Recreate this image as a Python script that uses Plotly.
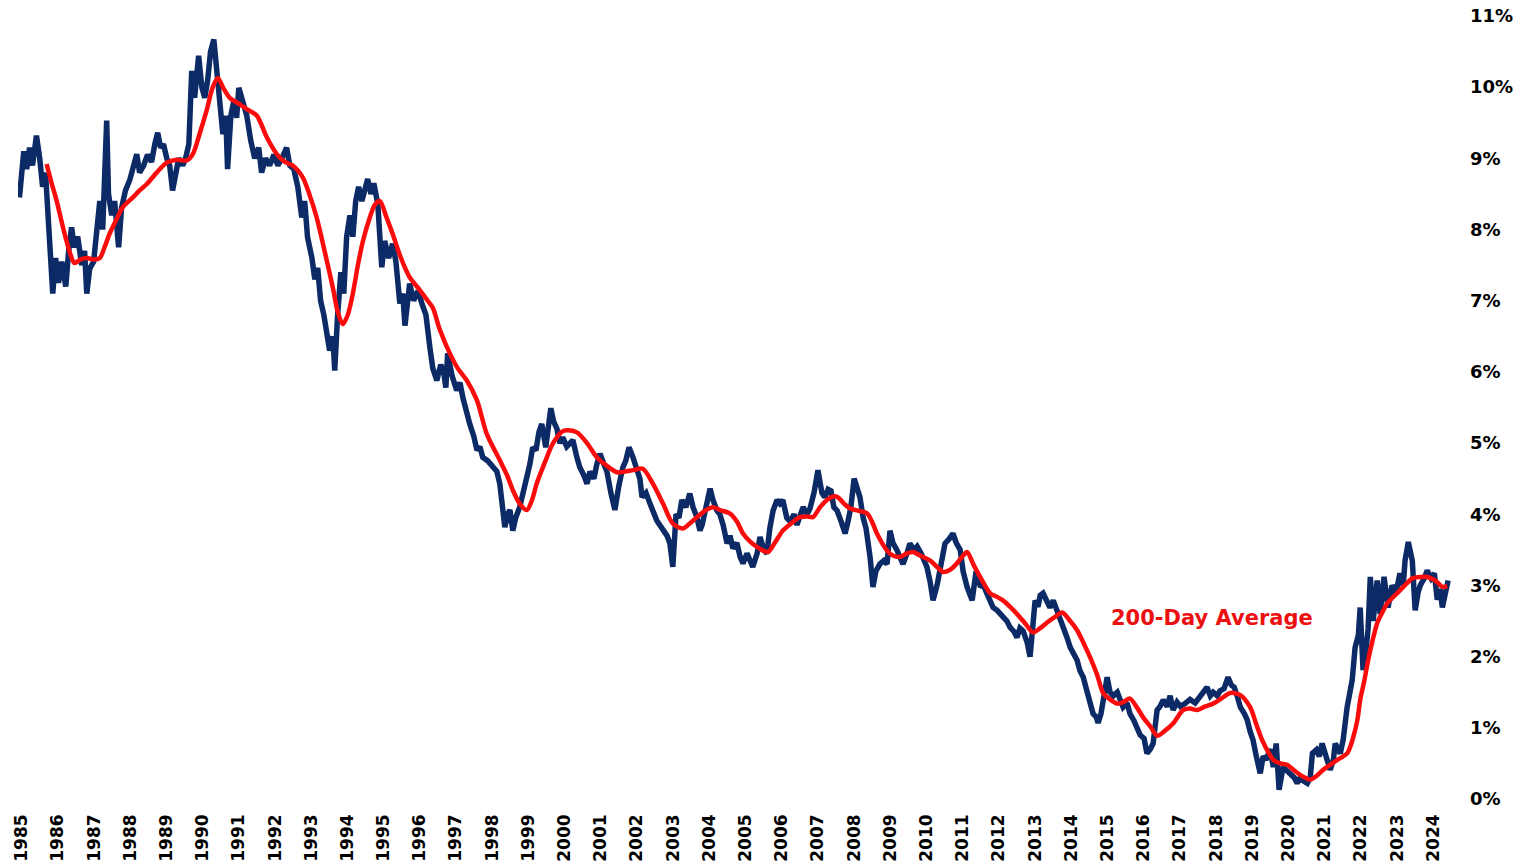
import plotly.graph_objects as go

# ---- data (decimal year, yield in %) ----
yield_t = [
    1984.94, 1985.00, 1985.06, 1985.14, 1985.22, 1985.30, 1985.41, 1985.50, 1985.58, 1985.66,
    1985.72, 1985.77, 1985.86, 1985.94, 1986.02, 1986.11, 1986.22, 1986.30, 1986.38, 1986.46,
    1986.55, 1986.66, 1986.74, 1986.80, 1986.88, 1986.99, 1987.07, 1987.16, 1987.24, 1987.29,
    1987.35, 1987.40, 1987.49, 1987.57, 1987.68, 1987.76, 1987.87, 1987.99, 1988.10, 1988.18,
    1988.26, 1988.37, 1988.48, 1988.59, 1988.68, 1988.76, 1988.84, 1988.92, 1989.01, 1989.09,
    1989.17, 1989.26, 1989.34, 1989.45, 1989.53, 1989.62, 1989.70, 1989.78, 1989.89, 1989.98,
    1990.06, 1990.14, 1990.22, 1990.31, 1990.39, 1990.47, 1990.56, 1990.64, 1990.69, 1990.78,
    1990.86, 1990.94, 1991.00, 1991.11, 1991.22, 1991.33, 1991.44, 1991.55, 1991.63, 1991.74,
    1991.85, 1991.97, 1992.08, 1992.19, 1992.32, 1992.41, 1992.52, 1992.63, 1992.74, 1992.82,
    1992.90, 1993.02, 1993.10, 1993.18, 1993.26, 1993.35, 1993.43, 1993.51, 1993.60, 1993.65,
    1993.73, 1993.82, 1993.90, 1993.98, 1994.07, 1994.15, 1994.23, 1994.31, 1994.40, 1994.48,
    1994.56, 1994.65, 1994.73, 1994.84, 1994.95, 1995.03, 1995.14, 1995.25, 1995.34, 1995.45,
    1995.53, 1995.59, 1995.72, 1995.83, 1995.95, 1996.06, 1996.17, 1996.28, 1996.36, 1996.47,
    1996.58, 1996.66, 1996.72, 1996.77, 1996.89, 1997.02, 1997.11, 1997.19, 1997.27, 1997.38,
    1997.49, 1997.58, 1997.66, 1997.74, 1997.88, 1998.02, 1998.13, 1998.21, 1998.29, 1998.35,
    1998.43, 1998.49, 1998.57, 1998.65, 1998.76, 1998.88, 1998.96, 1999.04, 1999.12, 1999.21,
    1999.29, 1999.37, 1999.48, 1999.57, 1999.62, 1999.70, 1999.79, 1999.87, 1999.95, 2000.06,
    2000.15, 2000.23, 2000.34, 2000.42, 2000.53, 2000.62, 2000.70, 2000.81, 2000.89, 2000.98,
    2001.09, 2001.17, 2001.28, 2001.39, 2001.50, 2001.61, 2001.69, 2001.78, 2001.89, 2002.00,
    2002.08, 2002.14, 2002.25, 2002.36, 2002.47, 2002.55, 2002.63, 2002.72, 2002.83, 2002.91,
    2002.99, 2003.08, 2003.16, 2003.24, 2003.35, 2003.46, 2003.55, 2003.66, 2003.74, 2003.80,
    2003.91, 2004.02, 2004.10, 2004.21, 2004.29, 2004.38, 2004.49, 2004.57, 2004.65, 2004.76,
    2004.85, 2004.93, 2005.04, 2005.12, 2005.20, 2005.32, 2005.40, 2005.51, 2005.59, 2005.67,
    2005.76, 2005.87, 2005.95, 2006.03, 2006.14, 2006.23, 2006.34, 2006.42, 2006.50, 2006.59,
    2006.70, 2006.78, 2006.89, 2007.00, 2007.11, 2007.19, 2007.28, 2007.36, 2007.44, 2007.53,
    2007.64, 2007.75, 2007.83, 2007.91, 2008.00, 2008.08, 2008.16, 2008.25, 2008.33, 2008.44,
    2008.52, 2008.60, 2008.71, 2008.82, 2008.91, 2008.99, 2009.07, 2009.18, 2009.27, 2009.35,
    2009.46, 2009.54, 2009.65, 2009.74, 2009.85, 2009.93, 2010.01, 2010.10, 2010.18, 2010.29,
    2010.37, 2010.46, 2010.51, 2010.62, 2010.73, 2010.82, 2010.93, 2011.01, 2011.12, 2011.26,
    2011.37, 2011.48, 2011.59, 2011.70, 2011.84, 2011.95, 2012.03, 2012.14, 2012.22, 2012.31,
    2012.42, 2012.50, 2012.58, 2012.67, 2012.78, 2012.86, 2012.94, 2013.00, 2013.08, 2013.14,
    2013.22, 2013.33, 2013.41, 2013.50, 2013.61, 2013.69, 2013.80, 2013.88, 2013.97, 2014.08,
    2014.16, 2014.24, 2014.33, 2014.44, 2014.52, 2014.60, 2014.69, 2014.74, 2014.82, 2014.91,
    2014.99, 2015.07, 2015.16, 2015.27, 2015.35, 2015.43, 2015.54, 2015.62, 2015.73, 2015.82,
    2015.90, 2016.01, 2016.09, 2016.18, 2016.26, 2016.37, 2016.45, 2016.54, 2016.65, 2016.73,
    2016.81, 2016.92, 2017.01, 2017.14, 2017.28, 2017.42, 2017.56, 2017.67, 2017.75, 2017.84,
    2017.92, 2018.03, 2018.11, 2018.22, 2018.33, 2018.42, 2018.50, 2018.58, 2018.67, 2018.78,
    2018.86, 2018.94, 2019.02, 2019.11, 2019.22, 2019.30, 2019.38, 2019.49, 2019.58, 2019.66,
    2019.74, 2019.85, 2019.96, 2020.05, 2020.16, 2020.24, 2020.32, 2020.43, 2020.52, 2020.60,
    2020.66, 2020.77, 2020.85, 2020.93, 2021.01, 2021.07, 2021.15, 2021.24, 2021.29, 2021.43,
    2021.51, 2021.62, 2021.71, 2021.76, 2021.84, 2021.93, 2021.98, 2022.06, 2022.15, 2022.20,
    2022.26, 2022.34, 2022.45, 2022.53, 2022.64, 2022.75, 2022.86, 2022.97, 2023.08, 2023.17,
    2023.22, 2023.31, 2023.42, 2023.50, 2023.58, 2023.64, 2023.75, 2023.83, 2023.94, 2024.03,
    2024.11, 2024.19, 2024.25, 2024.33, 2024.41,
]
yield_v = [
    8.45, 8.90, 9.10, 8.85, 9.15, 8.90, 9.32, 9.00, 8.60, 8.80,
    8.30, 7.60, 7.10, 7.60, 7.25, 7.55, 7.20, 7.70, 8.03, 7.75,
    7.90, 7.50, 7.70, 7.10, 7.45, 7.55, 7.90, 8.40, 8.00, 8.90,
    9.53, 8.50, 8.20, 8.40, 7.75, 8.30, 8.55, 8.70, 8.90, 9.06,
    8.80, 8.90, 9.05, 8.95, 9.20, 9.36, 9.15, 9.20, 9.00, 8.90,
    8.55, 8.80, 9.00, 8.90, 9.00, 9.20, 10.23, 9.85, 10.44, 10.00,
    9.85, 10.10, 10.50, 10.67, 10.20, 9.70, 9.34, 9.60, 8.85, 9.60,
    9.80, 9.57, 9.99, 9.80, 9.60, 9.25, 9.00, 9.15, 8.80, 9.00,
    8.90, 9.05, 8.90, 9.00, 9.15, 8.90, 8.85, 8.60, 8.17, 8.40,
    7.89, 7.60, 7.30, 7.46, 7.00, 6.80, 6.50, 6.30, 6.50, 6.02,
    6.80, 7.40, 7.10, 7.90, 8.20, 7.90, 8.40, 8.60, 8.40, 8.60,
    8.71, 8.50, 8.65, 8.36, 7.47, 7.84, 7.60, 7.80, 7.55, 6.96,
    7.10, 6.65, 7.24, 7.00, 7.14, 6.96, 6.80, 6.34, 6.05, 5.88,
    6.10, 6.00, 5.78, 6.26, 5.95, 5.74, 5.85, 5.64, 5.45, 5.27,
    5.10, 4.90, 4.95, 4.80, 4.75, 4.66, 4.60, 4.43, 4.10, 3.82,
    4.00, 4.06, 3.77, 3.95, 4.10, 4.35, 4.52, 4.70, 4.94, 4.90,
    5.15, 5.27, 4.94, 5.30, 5.49, 5.30, 5.20, 5.00, 5.08, 4.95,
    5.00, 5.04, 4.80, 4.66, 4.55, 4.43, 4.60, 4.50, 4.70, 4.85,
    4.70, 4.60, 4.30, 4.06, 4.40, 4.66, 4.75, 4.94, 4.80, 4.60,
    4.50, 4.24, 4.30, 4.15, 4.00, 3.91, 3.85, 3.77, 3.70, 3.59,
    3.26, 4.00, 3.95, 4.20, 4.10, 4.29, 4.10, 3.95, 3.77, 3.85,
    4.10, 4.36, 4.20, 4.05, 4.00, 3.85, 3.59, 3.70, 3.52, 3.60,
    3.40, 3.31, 3.45, 3.35, 3.26, 3.45, 3.68, 3.50, 3.45, 3.80,
    4.05, 4.20, 4.15, 4.20, 3.95, 3.90, 4.00, 3.85, 3.95, 4.10,
    4.00, 4.08, 4.30, 4.62, 4.30, 4.24, 4.35, 4.33, 4.10, 4.05,
    3.90, 3.73, 3.90, 4.10, 4.50, 4.35, 4.24, 3.95, 3.80, 3.40,
    2.98, 3.20, 3.30, 3.35, 3.30, 3.77, 3.60, 3.50, 3.40, 3.30,
    3.45, 3.59, 3.50, 3.55, 3.45, 3.35, 3.26, 3.05, 2.79, 3.00,
    3.20, 3.45, 3.59, 3.65, 3.73, 3.60, 3.50, 3.20, 2.98, 2.79,
    3.20, 3.00, 2.98, 2.85, 2.69, 2.65, 2.60, 2.55, 2.50, 2.41,
    2.35, 2.27, 2.40, 2.36, 2.20, 2.00, 2.50, 2.79, 2.70, 2.86,
    2.89, 2.75, 2.69, 2.79, 2.65, 2.50, 2.40, 2.27, 2.13, 2.00,
    1.95, 1.80, 1.71, 1.50, 1.35, 1.20, 1.15, 1.07, 1.20, 1.50,
    1.71, 1.50, 1.45, 1.50, 1.40, 1.29, 1.35, 1.20, 1.10, 1.01,
    0.90, 0.85, 0.64, 0.70, 0.78, 1.25, 1.30, 1.39, 1.30, 1.45,
    1.25, 1.36, 1.30, 1.34, 1.40, 1.35, 1.45, 1.50, 1.57, 1.45,
    1.50, 1.45, 1.52, 1.55, 1.71, 1.60, 1.57, 1.45, 1.29, 1.20,
    1.11, 0.95, 0.83, 0.60, 0.36, 0.60, 0.55, 0.70, 0.45, 0.78,
    0.13, 0.45, 0.40, 0.36, 0.30, 0.22, 0.30, 0.25, 0.22, 0.30,
    0.64, 0.69, 0.60, 0.78, 0.65, 0.60, 0.41, 0.55, 0.78, 0.64,
    0.83, 1.29, 1.50, 1.67, 2.13, 2.30, 2.69, 1.81, 2.13, 2.40,
    3.12, 2.50, 3.07, 2.60, 3.12, 2.69, 3.00, 2.90, 3.17, 3.00,
    3.35, 3.61, 3.35, 2.65, 2.90, 3.00, 3.10, 3.21, 3.10, 3.17,
    2.80, 2.95, 2.69, 2.85, 3.07,
]

avg_t = [
    1985.69, 1985.83, 1985.97, 1986.11, 1986.24, 1986.35, 1986.46, 1986.63, 1986.80, 1986.99,
    1987.16, 1987.29, 1987.43, 1987.60, 1987.79, 1988.07, 1988.26, 1988.46, 1988.73, 1989.01,
    1989.28, 1989.56, 1989.73, 1989.92, 1990.11, 1990.28, 1990.42, 1990.58, 1990.75, 1991.03,
    1991.25, 1991.50, 1991.77, 1992.05, 1992.27, 1992.49, 1992.77, 1992.96, 1993.15, 1993.37,
    1993.60, 1993.73, 1993.87, 1994.01, 1994.15, 1994.29, 1994.43, 1994.62, 1994.76, 1994.90,
    1995.06, 1995.25, 1995.48, 1995.72, 1996.00, 1996.22, 1996.36, 1996.55, 1996.83, 1997.05,
    1997.30, 1997.58, 1997.85, 1998.21, 1998.41, 1998.57, 1998.76, 1998.96, 1999.10, 1999.23,
    1999.37, 1999.51, 1999.65, 1999.79, 1999.93, 2000.06, 2000.34, 2000.62, 2000.89, 2001.17,
    2001.45, 2001.67, 2001.89, 2002.16, 2002.44, 2002.72, 2002.99, 2003.27, 2003.46, 2003.66,
    2003.88, 2004.10, 2004.29, 2004.57, 2004.76, 2004.93, 2005.12, 2005.32, 2005.48, 2005.62,
    2005.81, 2006.03, 2006.28, 2006.50, 2006.70, 2006.86, 2007.06, 2007.25, 2007.42, 2007.55,
    2007.72, 2007.89, 2008.11, 2008.36, 2008.49, 2008.63, 2008.91, 2009.07, 2009.27, 2009.46,
    2009.63, 2009.82, 2010.10, 2010.29, 2010.46, 2010.65, 2010.84, 2010.98, 2011.12, 2011.29,
    2011.48, 2011.76, 2011.95, 2012.11, 2012.31, 2012.50, 2012.72, 2012.94, 2013.14, 2013.33,
    2013.55, 2013.75, 2013.97, 2014.16, 2014.33, 2014.52, 2014.71, 2014.88, 2015.07, 2015.27,
    2015.43, 2015.62, 2015.82, 2015.98, 2016.18, 2016.37, 2016.59, 2016.81, 2017.09, 2017.28,
    2017.48, 2017.70, 2017.92, 2018.17, 2018.39, 2018.67, 2018.94, 2019.11, 2019.27, 2019.44,
    2019.58, 2019.77, 2019.96, 2020.16, 2020.32, 2020.46, 2020.60, 2020.79, 2020.96, 2021.15,
    2021.35, 2021.51, 2021.62, 2021.71, 2021.79, 2021.90, 2021.98, 2022.09, 2022.20, 2022.31,
    2022.45, 2022.59, 2022.73, 2022.86, 2023.00, 2023.17, 2023.31, 2023.42, 2023.64, 2023.83,
    2023.94, 2024.05, 2024.16, 2024.25, 2024.39,
]
avg_v = [
    8.92, 8.65, 8.40, 8.10, 7.84, 7.65, 7.53, 7.58, 7.60, 7.58,
    7.60, 7.75, 7.94, 8.12, 8.31, 8.45, 8.55, 8.64, 8.80, 8.94,
    8.98, 8.97, 9.06, 9.35, 9.67, 10.00, 10.13, 9.98, 9.85, 9.76,
    9.68, 9.60, 9.30, 9.06, 8.95, 8.90, 8.73, 8.48, 8.17, 7.70,
    7.18, 6.85, 6.67, 6.80, 7.10, 7.50, 7.84, 8.17, 8.35, 8.40,
    8.20, 7.94, 7.60, 7.33, 7.15, 7.00, 6.90, 6.60, 6.26, 6.05,
    5.88, 5.60, 5.13, 4.76, 4.55, 4.34, 4.15, 4.06, 4.20, 4.43,
    4.62, 4.80, 4.97, 5.08, 5.16, 5.18, 5.15, 5.00, 4.80, 4.68,
    4.59, 4.60, 4.62, 4.64, 4.43, 4.15, 3.87, 3.80, 3.87, 3.96,
    4.05, 4.10, 4.06, 4.01, 3.90, 3.73, 3.62, 3.54, 3.49, 3.47,
    3.60, 3.77, 3.88, 3.96, 3.97, 3.96, 4.10, 4.20, 4.25, 4.24,
    4.15, 4.08, 4.05, 4.01, 3.90, 3.73, 3.49, 3.42, 3.40, 3.45,
    3.47, 3.42, 3.35, 3.26, 3.19, 3.22, 3.31, 3.40, 3.47, 3.30,
    3.12, 2.89, 2.84, 2.79, 2.70, 2.60, 2.47, 2.34, 2.40, 2.48,
    2.56, 2.62, 2.50, 2.37, 2.20, 1.99, 1.75, 1.49, 1.40, 1.34,
    1.36, 1.41, 1.28, 1.15, 1.02, 0.89, 0.96, 1.06, 1.25, 1.27,
    1.25, 1.30, 1.34, 1.42, 1.49, 1.46, 1.29, 1.05, 0.83, 0.66,
    0.55, 0.50, 0.48, 0.40, 0.34, 0.30, 0.27, 0.33, 0.41, 0.48,
    0.55, 0.60, 0.64, 0.74, 0.87, 1.10, 1.39, 1.65, 1.95, 2.20,
    2.47, 2.62, 2.75, 2.82, 2.89, 2.98, 3.05, 3.10, 3.12, 3.12,
    3.10, 3.07, 3.02, 2.98, 2.99,
]

year_ticks = list(range(1985, 2025))
year_labels = [str(y) for y in year_ticks]
pct_ticks = list(range(0, 12))
pct_labels = [f"{p}%" for p in pct_ticks]

label_text = "200-Day Average"
label_pos = (2017.89, 2.54)

NAVY = "#0b2a66"
RED = "#fa0c0c"
FONT = "DejaVu Sans"

fig = go.Figure()
fig.add_trace(go.Scatter(
    x=yield_t, y=yield_v, mode="lines",
    line=dict(color=NAVY, width=5.5),
    hoverinfo="skip", showlegend=False,
))
fig.add_trace(go.Scatter(
    x=avg_t, y=avg_v, mode="lines",
    line=dict(color=RED, width=4.5, shape="spline", smoothing=0.8),
    hoverinfo="skip", showlegend=False,
))

fig.add_annotation(
    x=label_pos[0], y=label_pos[1], xref="x", yref="y",
    text=f"<b>{label_text}</b>", showarrow=False,
    font=dict(family=FONT, size=21, color="#ec1010"),
)

fig.update_layout(
    width=1526, height=864,
    margin=dict(l=18, r=71, t=16, b=65, autoexpand=False),
    paper_bgcolor="white", plot_bgcolor="white",
    font=dict(family=FONT, color="black"),
)
fig.update_xaxes(
    range=[1984.9, 2024.6], automargin=False,
    tickmode="array", tickvals=year_ticks, ticktext=[f"<b>{t}</b>" for t in year_labels],
    tickangle=-90, tickfont=dict(family=FONT, size=17, color="black"),
    showgrid=False, zeroline=False, showline=False, ticks="",
    ticklabelstandoff=11,
)
fig.update_yaxes(
    range=[0, 11], side="right", automargin=False,
    tickmode="array", tickvals=pct_ticks, ticktext=[f"<b>{t}</b>" for t in pct_labels],
    tickfont=dict(family=FONT, size=18, color="black"),
    showgrid=False, zeroline=False, showline=False, ticks="",
    ticklabelstandoff=14,
)

fig.write_html("out.html", config={"displayModeBar": False},
               post_script="document.body.style.margin='0';")
